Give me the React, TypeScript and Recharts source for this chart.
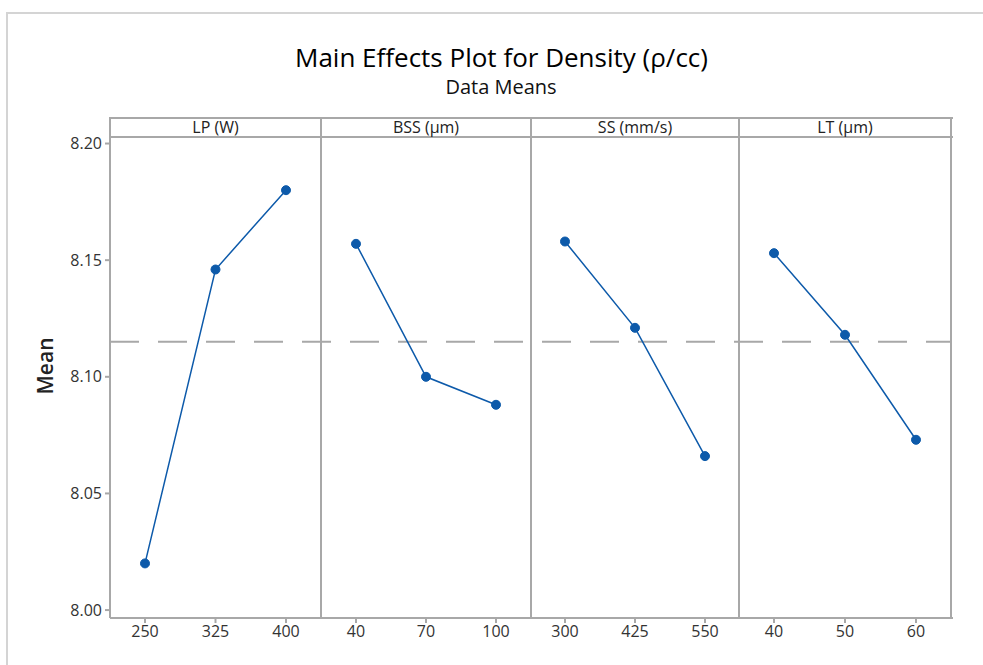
import React from "react";
import { LineChart, Line, XAxis, YAxis, ReferenceLine } from "recharts";

const LP_LEVELS = ["250", "325", "400"];
const LP_MEANS = [8.02, 8.146, 8.18];
const BSS_LEVELS = ["40", "70", "100"];
const BSS_MEANS = [8.157, 8.1, 8.088];
const SS_LEVELS = ["300", "425", "550"];
const SS_MEANS = [8.158, 8.121, 8.066];
const LT_LEVELS = ["40", "50", "60"];
const LT_MEANS = [8.153, 8.118, 8.073];
const FACTORS = ["LP (W)", "BSS (μm)", "SS (mm/s)", "LT (μm)"];
const GRAND_MEAN = 8.115;
const Y_TICKS = [8.0, 8.05, 8.1, 8.15, 8.2];

const FONT = "'Open Sans', 'Noto Sans', sans-serif";
const GRID = "#a8a8a8";
const BLUE = "#0d5aaa";
const PLOT_TOP = 137;
const PLOT_BOTTOM = 618;
const TOP_PAD = 20;
const AXIS_H = 40;
const Y_DOMAIN: [number, number] = [7.9966, 8.2028];
const DASH = 29;
const GAP = 19;

// panel edges in page pixels
const EDGES = [110, 321, 531, 739, 951];

function Panel({
  levels,
  means,
  index,
}: {
  levels: string[];
  means: number[];
  index: number;
}) {
  const data = levels.map((l, i) => ({ level: l, mean: means[i] }));
  const first = index === 0;
  const left = first ? 0 : EDGES[index];
  const width = EDGES[index + 1] - left;
  const plotW = EDGES[index + 1] - EDGES[index];
  const pad = plotW >= 210 ? 35 : 34;
  const dashOffset = (EDGES[index] - EDGES[0]) % (DASH + GAP);
  return (
    <div style={{ position: "absolute", left, top: PLOT_TOP - TOP_PAD }}>
      <LineChart
        width={width}
        height={PLOT_BOTTOM - PLOT_TOP + AXIS_H + TOP_PAD}
        data={data}
        margin={{ top: TOP_PAD, right: 0, bottom: 0, left: 0 }}
      >
        <XAxis
          dataKey="level"
          type="category"
          padding={{ left: pad, right: pad }}
          axisLine={false}
          tickLine={{ stroke: GRID, strokeWidth: 2 }}
          tickSize={5}
          tickMargin={3}
          height={AXIS_H}
          tick={{ fill: "#333", fontSize: 16, fontFamily: FONT }}
          interval={0}
        />
        <YAxis
          hide={!first}
          width={110}
          domain={Y_DOMAIN}
          ticks={Y_TICKS}
          allowDataOverflow
          type="number"
          axisLine={false}
          tickLine={{ stroke: GRID, strokeWidth: 2 }}
          tickSize={5}
          tickMargin={3}
          tickFormatter={(v: number) => v.toFixed(2)}
          tick={{ fill: "#333", fontSize: 16, fontFamily: FONT }}
        />
        <ReferenceLine
          y={GRAND_MEAN}
          stroke={GRID}
          strokeWidth={2}
          strokeDasharray={`${DASH} ${GAP}`}
          strokeDashoffset={dashOffset}
        />
        <Line
          dataKey="mean"
          stroke={BLUE}
          strokeWidth={1.5}
          dot={{ r: 4.5, fill: BLUE, stroke: BLUE, strokeWidth: 1 }}
          isAnimationActive={false}
        />
      </LineChart>
    </div>
  );
}

export default function App() {
  const lineStyle = { position: "absolute" as const, background: GRID };
  return (
    <div
      style={{
        position: "absolute",
        left: 0,
        top: 0,
        width: 983,
        height: 665,
        background: "#fff",
        fontFamily: FONT,
        overflow: "hidden",
      }}
    >
      {/* outer frame */}
      <div style={{ position: "absolute", left: 6, top: 12, width: 977, height: 2, background: "#d4d4d4" }} />
      <div style={{ position: "absolute", left: 6, top: 12, width: 2, height: 653, background: "#d4d4d4" }} />

      <div
        style={{
          position: "absolute",
          left: 0,
          width: 1003,
          top: 39,
          textAlign: "center",
          fontSize: 26,
          color: "#000",
        }}
      >
        Main Effects Plot for Density (ρ/cc)
      </div>
      <div
        style={{
          position: "absolute",
          left: 0,
          width: 1002,
          top: 73,
          textAlign: "center",
          fontSize: 20,
          color: "#111",
        }}
      >
        Data Means
      </div>

      {/* panel frames */}
      <div style={{ ...lineStyle, left: EDGES[0], top: 117, width: EDGES[4] - EDGES[0] + 2, height: 2 }} />
      <div style={{ ...lineStyle, left: EDGES[0], top: 136, width: EDGES[4] - EDGES[0] + 2, height: 2 }} />
      <div style={{ ...lineStyle, left: EDGES[0], top: PLOT_BOTTOM - 1, width: EDGES[4] - EDGES[0] + 2, height: 2 }} />
      {EDGES.map((x) => (
        <div key={x} style={{ ...lineStyle, left: x - 1, top: 117, width: 2, height: PLOT_BOTTOM - 117 }} />
      ))}
      {FACTORS.map((f, i) => (
        <div
          key={f}
          style={{
            position: "absolute",
            left: EDGES[i],
            width: EDGES[i + 1] - EDGES[i],
            top: 117,
            height: 20,
            lineHeight: "20px",
            textAlign: "center",
            fontSize: 16,
            color: "#222",
          }}
        >
          {f}
        </div>
      ))}

      <div
        style={{
          position: "absolute",
          left: 45,
          top: 366,
          transform: "translate(-50%, -50%) rotate(-90deg)",
          fontSize: 21,
          fontWeight: 600,
          color: "#222",
          whiteSpace: "nowrap",
        }}
      >
        Mean
      </div>

      <Panel levels={LP_LEVELS} means={LP_MEANS} index={0} />
      <Panel levels={BSS_LEVELS} means={BSS_MEANS} index={1} />
      <Panel levels={SS_LEVELS} means={SS_MEANS} index={2} />
      <Panel levels={LT_LEVELS} means={LT_MEANS} index={3} />
    </div>
  );
}
